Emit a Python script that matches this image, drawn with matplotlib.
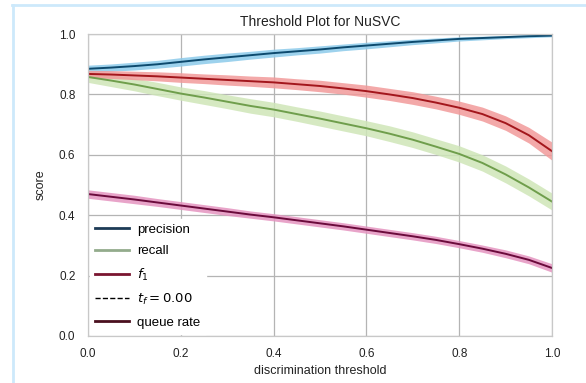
import matplotlib
matplotlib.use("Agg")
import matplotlib.pyplot as plt
from matplotlib.lines import Line2D
import numpy as np

# discrimination thresholds and per-metric scores
thresholds = [0.0, 0.05, 0.1, 0.15, 0.2, 0.25, 0.3, 0.35, 0.4, 0.45, 0.5,
              0.55, 0.6, 0.65, 0.7, 0.75, 0.8, 0.85, 0.9, 0.95, 1.0]

precision = [0.885, 0.889, 0.894, 0.900, 0.908, 0.916, 0.923, 0.930, 0.937, 0.943, 0.949,
             0.956, 0.962, 0.968, 0.974, 0.979, 0.984, 0.987, 0.990, 0.993, 0.995]
precision_band = [0.012, 0.012, 0.013, 0.013, 0.014, 0.014, 0.014, 0.013, 0.013, 0.012, 0.012,
                  0.011, 0.011, 0.010, 0.009, 0.008, 0.007, 0.006, 0.005, 0.005, 0.004]

recall = [0.858, 0.846, 0.833, 0.818, 0.803, 0.790, 0.776, 0.762, 0.750, 0.735, 0.720,
          0.704, 0.688, 0.670, 0.650, 0.627, 0.603, 0.573, 0.535, 0.492, 0.445]
recall_band = [0.018, 0.020, 0.021, 0.022, 0.022, 0.023, 0.023, 0.024, 0.024, 0.024, 0.025,
               0.025, 0.025, 0.026, 0.026, 0.026, 0.027, 0.027, 0.028, 0.028, 0.028]

f1 = [0.868, 0.866, 0.863, 0.860, 0.856, 0.852, 0.848, 0.844, 0.840, 0.834, 0.828,
      0.820, 0.811, 0.800, 0.788, 0.773, 0.756, 0.735, 0.705, 0.665, 0.612]
f1_band = [0.012, 0.013, 0.014, 0.015, 0.016, 0.016, 0.017, 0.017, 0.018, 0.018, 0.019,
           0.019, 0.020, 0.020, 0.021, 0.021, 0.022, 0.023, 0.024, 0.026, 0.030]

queue_rate = [0.470, 0.461, 0.452, 0.442, 0.432, 0.422, 0.412, 0.402, 0.393, 0.383, 0.373,
              0.363, 0.352, 0.341, 0.330, 0.318, 0.304, 0.289, 0.272, 0.252, 0.225]
queue_band = [0.014, 0.014, 0.014, 0.013, 0.013, 0.013, 0.013, 0.012, 0.012, 0.012, 0.012,
              0.012, 0.012, 0.012, 0.012, 0.012, 0.012, 0.012, 0.013, 0.013, 0.014]

threshold_value = 0.00

plt.rcParams["font.family"] = ["Liberation Sans", "DejaVu Sans"]

fig = plt.figure(figsize=(5.86, 3.83), dpi=100)
ax = fig.add_axes([0.150, 0.123, 0.792, 0.788])

x = np.array(thresholds)
series = [
    (precision, precision_band, "#0d4a6e", "#8ccaea"),
    (recall, recall_band, "#6f9e4c", "#cfe6b8"),
    (f1, f1_band, "#a3161c", "#f29a9a"),
    (queue_rate, queue_band, "#6b0b3c", "#e594c0"),
]
for vals, band, line_c, band_c in series:
    v = np.array(vals)
    b = np.array(band)
    ax.fill_between(x, v - b, v + b, color=band_c, alpha=0.85, linewidth=0)
    ax.plot(x, v, color=line_c, linewidth=1.4)

ax.set_xlim(0, 1)
ax.set_ylim(0, 1)
ax.set_xticks([0.0, 0.2, 0.4, 0.6, 0.8, 1.0])
ax.set_yticks([0.0, 0.2, 0.4, 0.6, 0.8, 1.0])
ax.tick_params(length=0, labelsize=8.5, colors="#222222", pad=9)
ax.grid(True, color="#b4b4b4", linewidth=0.9)
ax.set_axisbelow(True)
for sp in ax.spines.values():
    sp.set_color("#c8c8c8")
    sp.set_linewidth(0.9)

ax.set_title("Threshold Plot for NuSVC", fontsize=10, color="#222222", pad=6)
ax.set_xlabel("discrimination threshold", fontsize=9, color="#222222", labelpad=3)
ax.set_ylabel("score", fontsize=9, color="#222222", labelpad=9)

handles = [
    Line2D([], [], color="#1d3b56", linewidth=2),
    Line2D([], [], color="#93ab8c", linewidth=2),
    Line2D([], [], color="#7a1530", linewidth=2),
    Line2D([], [], color="black", linewidth=1, linestyle="--"),
    Line2D([], [], color="#4a0f1e", linewidth=2),
]
labels = ["precision", "recall", "$f_1$", "$t_f = %.2f$" % threshold_value, "queue rate"]
leg = ax.legend(handles, labels, loc="lower left", fontsize=9.5, frameon=True,
                labelspacing=0.7, handlelength=2.6, handletextpad=0.6,
                borderaxespad=0.15, borderpad=0.4,
                fancybox=False, framealpha=1.0, edgecolor="white")

# light blue frame of the original screenshot
fig.add_artist(Line2D([12 / 586, 1], [1 - 5 / 383, 1 - 5 / 383],
                      transform=fig.transFigure, color="#cde9fb", linewidth=2))
fig.add_artist(Line2D([13 / 586, 13 / 586], [0, 1 - 5 / 383],
                      transform=fig.transFigure, color="#cde9fb", linewidth=2))

fig.savefig("out.png", dpi=100)
